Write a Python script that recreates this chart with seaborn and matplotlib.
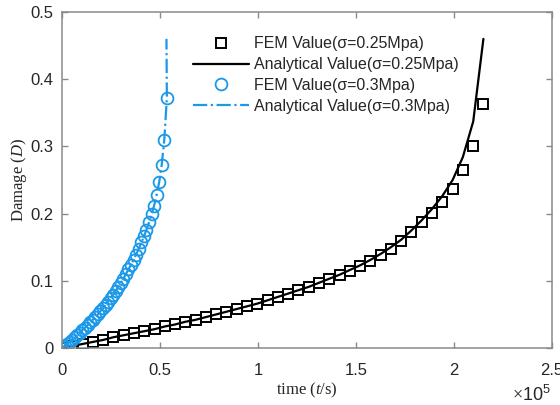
import numpy as np
import pandas as pd
import seaborn as sns
import matplotlib
matplotlib.use('Agg')
import matplotlib.pyplot as plt

# time in units of 1e5 s
t_025 = [0.000, 0.052, 0.105, 0.157, 0.210, 0.262, 0.315, 0.367, 0.420, 0.472,
         0.524, 0.577, 0.629, 0.682, 0.734, 0.787, 0.839, 0.891, 0.944, 0.996,
         1.049, 1.101, 1.154, 1.206, 1.259, 1.311, 1.363, 1.416, 1.468, 1.521,
         1.573, 1.626, 1.678, 1.730, 1.783, 1.835, 1.888, 1.940, 1.993, 2.045,
         2.098, 2.150]
fem_025 = [0.000, 0.003, 0.006, 0.009, 0.012, 0.016, 0.019, 0.022, 0.025, 0.028,
           0.032, 0.035, 0.039, 0.042, 0.046, 0.050, 0.054, 0.058, 0.062, 0.066,
           0.071, 0.076, 0.081, 0.086, 0.091, 0.097, 0.103, 0.109, 0.115, 0.122,
           0.130, 0.138, 0.148, 0.159, 0.172, 0.187, 0.201, 0.218, 0.237, 0.265,
           0.301, 0.363]
ana_025 = [0.000, 0.003, 0.006, 0.009, 0.012, 0.016, 0.019, 0.022, 0.025, 0.028,
           0.032, 0.035, 0.039, 0.042, 0.046, 0.050, 0.054, 0.058, 0.062, 0.066,
           0.071, 0.076, 0.081, 0.086, 0.091, 0.097, 0.103, 0.109, 0.116, 0.123,
           0.131, 0.140, 0.150, 0.161, 0.175, 0.190, 0.207, 0.226, 0.250, 0.284,
           0.337, 0.460]

t_03 = [0.000, 0.013, 0.026, 0.039, 0.052, 0.065, 0.078, 0.091, 0.104, 0.117,
        0.131, 0.144, 0.157, 0.170, 0.183, 0.196, 0.209, 0.222, 0.235, 0.248,
        0.261, 0.274, 0.287, 0.300, 0.313, 0.326, 0.339, 0.352, 0.365, 0.378,
        0.392, 0.405, 0.418, 0.431, 0.444, 0.457, 0.470, 0.483, 0.496, 0.509,
        0.522, 0.535]
fem_03 = [0.000, 0.003, 0.006, 0.009, 0.012, 0.016, 0.019, 0.023, 0.027, 0.030,
          0.034, 0.038, 0.042, 0.046, 0.050, 0.055, 0.059, 0.064, 0.069, 0.074,
          0.079, 0.085, 0.091, 0.097, 0.103, 0.110, 0.117, 0.124, 0.131, 0.139,
          0.148, 0.157, 0.166, 0.176, 0.187, 0.199, 0.212, 0.228, 0.247, 0.273,
          0.310, 0.372]
t_03_ana = t_03 + [0.533]
ana_03 = fem_03 + [0.460]

BLUE = '#1b98e8'

sns.set_style('ticks')
plt.rcParams['font.family'] = ['Liberation Sans', 'DejaVu Sans']
plt.rcParams['mathtext.fontset'] = 'custom'
plt.rcParams['mathtext.rm'] = 'Liberation Serif'
plt.rcParams['mathtext.it'] = 'Liberation Serif:italic'
plt.rcParams['mathtext.sf'] = 'Liberation Sans'

fig = plt.figure(figsize=(5.6, 4.05), dpi=100)
ax = fig.add_axes([62 / 560, 57 / 405, 490 / 560, 336 / 405])

d1 = pd.DataFrame({'t': t_025, 'D': fem_025})
d2 = pd.DataFrame({'t': t_025, 'D': ana_025})
d3 = pd.DataFrame({'t': t_03, 'D': fem_03})
d4 = pd.DataFrame({'t': t_03_ana, 'D': ana_03})

sns.lineplot(data=d1, x='t', y='D', ax=ax, sort=False, estimator=None,
             linestyle='', marker='s', markersize=6.5, markerfacecolor='none',
             markeredgecolor='k', markeredgewidth=1.4, color='k',
             label='FEM Value(σ=0.25Mpa)')
sns.lineplot(data=d2, x='t', y='D', ax=ax, sort=False, estimator=None,
             color='k', linewidth=1.6, label='Analytical Value(σ=0.25Mpa)')
sns.lineplot(data=d3, x='t', y='D', ax=ax, sort=False, estimator=None,
             linestyle='', marker='o', markersize=8.5, markerfacecolor='none',
             markeredgecolor=BLUE, markeredgewidth=1.3, color=BLUE,
             label='FEM Value(σ=0.3Mpa)')
sns.lineplot(data=d4, x='t', y='D', ax=ax, sort=False, estimator=None,
             color=BLUE, linewidth=1.6, linestyle='-.',
             label='Analytical Value(σ=0.3Mpa)')

ax.set_xlim(0, 2.5)
ax.set_ylim(0, 0.5)
ax.set_xticks([0, 0.5, 1, 1.5, 2, 2.5])
ax.set_xticklabels(['0', '0.5', '1', '1.5', '2', '2.5'])
ax.set_yticks([0, 0.1, 0.2, 0.3, 0.4, 0.5])
ax.set_yticklabels(['0', '0.1', '0.2', '0.3', '0.4', '0.5'])

for s in ax.spines.values():
    s.set_visible(True)
    s.set_color('#8a8a8a')
    s.set_linewidth(1.1)
ax.tick_params(direction='in', top=True, right=True, length=4, width=1.0,
               color='#8a8a8a', labelsize=12, labelcolor='#262626', pad=6)
ax.tick_params(axis='x', pad=11)

ax.set_xlabel('time ($\\mathit{t}$/s)', fontsize=12, family='Liberation Serif',
              color='#262626', labelpad=2)
ax.set_ylabel('Damage ($\\mathit{D}$)', fontsize=12, family='Liberation Serif',
              color='#262626', labelpad=1)
fig.text(531 / 560, 1 - 395 / 405, '$\\times\\mathsf{10^5}$', fontsize=13,
         color='#262626', ha='center', va='center')

ax.legend(loc='upper left', bbox_to_anchor=(0.268, 0.928), frameon=False,
          fontsize=11.5, handlelength=3.5, handletextpad=0.3, labelspacing=0.37,
          borderpad=0, borderaxespad=0)

fig.savefig('out.png', dpi=100)
